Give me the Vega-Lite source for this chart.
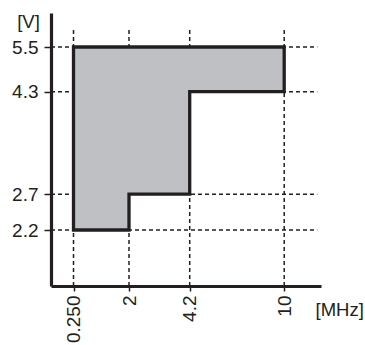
{
  "$schema": "https://vega.github.io/schema/vega-lite/v6.json",
  "width": 270,
  "height": 273,
  "autosize": {"type": "none"},
  "padding": {"left": 51, "top": 13, "right": 44, "bottom": 59},
  "background": "white",
  "config": {
    "view": {"stroke": null},
    "font": "Liberation Sans",
    "axis": {
      "grid": false,
      "domainColor": "#231f20",
      "domainWidth": 3.2,
      "tickColor": "#231f20",
      "tickWidth": 1.5,
      "labelFont": "Liberation Sans",
      "labelFontSize": 19,
      "labelColor": "#231f20",
      "titleFont": "Liberation Sans",
      "titleFontSize": 18.5,
      "titleFontWeight": "normal",
      "titleColor": "#231f20"
    }
  },
  "datasets": {
    "region": [
      {"f": 0.25, "vmin": 2.2, "vmax": 5.5},
      {"f": 2, "vmin": 2.7, "vmax": 5.5},
      {"f": 4.2, "vmin": 4.3, "vmax": 5.5},
      {"f": 10, "vmin": 4.3, "vmax": 5.5}
    ],
    "fgrid": [{"f": 0.25}, {"f": 2}, {"f": 4.2}, {"f": 10}],
    "vgrid": [{"v": 2.2}, {"v": 2.7}, {"v": 4.3}, {"v": 5.5}]
  },
  "layer": [
    {
      "data": {"name": "fgrid"},
      "mark": {"type": "rule", "color": "#231f20", "strokeWidth": 1.5, "strokeDash": [4, 3]},
      "encoding": {
        "x": {
          "field": "f", "type": "quantitative",
          "scale": {"domain": [0, 0.25, 2, 4.2, 10, 11], "range": [0, 22.5, 78, 138.7, 233.2, 270], "zero": false, "nice": false},
          "axis": {
            "values": [0.25, 2, 4.2, 10],
            "labelAngle": -90,
            "labelExpr": "datum.value === 0.25 ? '0.250' : '' + datum.value",
            "tickSize": 5,
            "labelPadding": 4,
            "title": "[MHz]",
            "titleAngle": 0,
            "titleX": 264,
            "titleY": 23,
            "titleAlign": "left",
            "titleBaseline": "middle"
          }
        },
        "y": {
          "datum": 1.3, "type": "quantitative",
          "scale": {"domain": [1.3, 2.2, 2.7, 4.3, 5.5, 6.1], "range": [273, 217, 181.2, 78.7, 34, 0], "zero": false, "nice": false},
          "axis": {
            "values": [2.2, 2.7, 4.3, 5.5],
            "format": ".1f",
            "tickSize": 7,
            "labelPadding": 6,
            "title": "[V]",
            "titleAngle": 0,
            "titleX": -23,
            "titleY": 8,
            "titleAlign": "center",
            "titleBaseline": "middle"
          }
        },
        "y2": {"datum": 5.8}
      }
    },
    {
      "data": {"name": "vgrid"},
      "mark": {"type": "rule", "color": "#231f20", "strokeWidth": 1.5, "strokeDash": [4, 3]},
      "encoding": {
        "y": {"field": "v", "type": "quantitative"},
        "x": {"datum": 0, "type": "quantitative"},
        "x2": {"datum": 10.9}
      }
    },
    {
      "data": {"name": "region"},
      "mark": {"type": "area", "interpolate": "step-after", "fill": "#bfc0c4", "fillOpacity": 1, "stroke": "#231f20", "strokeWidth": 3.3, "strokeJoin": "miter"},
      "encoding": {
        "x": {"field": "f", "type": "quantitative"},
        "y": {"field": "vmin", "type": "quantitative"},
        "y2": {"field": "vmax"}
      }
    }
  ]
}
